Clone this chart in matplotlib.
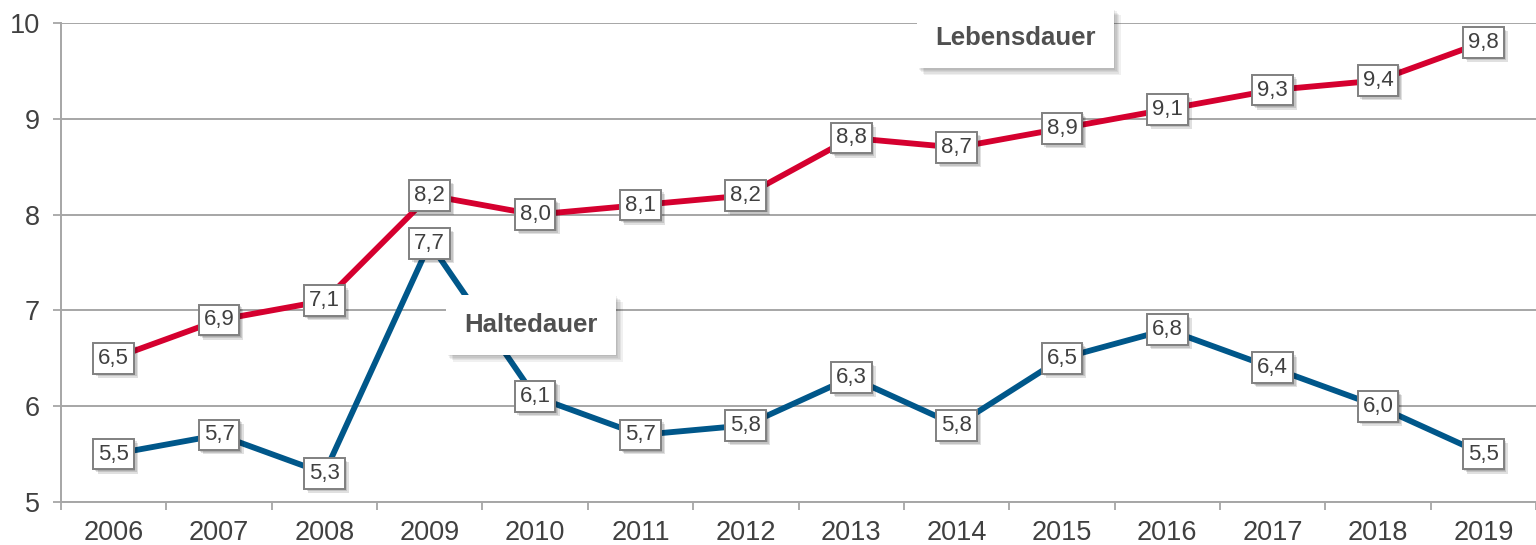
import numpy as np
import matplotlib
matplotlib.use("Agg")
import matplotlib.pyplot as plt
import matplotlib.patheffects as pe

plt.rcParams['font.family'] = ['Liberation Sans', 'DejaVu Sans']

years = ['2006', '2007', '2008', '2009', '2010', '2011', '2012',
         '2013', '2014', '2015', '2016', '2017', '2018', '2019']
lebensdauer = [6.5, 6.9, 7.1, 8.2, 8.0, 8.1, 8.2, 8.8, 8.7, 8.9, 9.1, 9.3, 9.4, 9.8]
haltedauer = [5.5, 5.7, 5.3, 7.7, 6.1, 5.7, 5.8, 6.3, 5.8, 6.5, 6.8, 6.4, 6.0, 5.5]

RED = '#d5002f'
BLUE = '#00578a'
GRID = '#a6a6a6'
TEXT = '#404040'


def soft_shadow(steps=4, alpha=0.09):
    # stack a few offset shadows to fake a blurred drop shadow
    effects = [pe.SimplePatchShadow(offset=(i, -i), shadow_rgbFace='#000000', alpha=alpha)
               for i in range(1, steps + 1)]
    return effects + [pe.Normal()]


fig = plt.figure(figsize=(15.36, 5.45), dpi=100)
ax = fig.add_axes([61 / 1536, 43 / 545, 1 - 61 / 1536, (502 - 23) / 545])

x = np.arange(len(years))
ax.plot(x, lebensdauer, color=RED, lw=4.2, zorder=3, solid_capstyle='butt')
ax.plot(x, haltedauer, color=BLUE, lw=4.2, zorder=3, solid_capstyle='butt')

# value labels
for series in (lebensdauer, haltedauer):
    for xi, v in zip(x, series):
        t = ax.text(xi, v, f"{v:.1f}".replace('.', ','), ha='center', va='center',
                    fontsize=16, color=TEXT, zorder=6,
                    bbox=dict(boxstyle='square,pad=0.22', fc='white', ec='#808080', lw=1.4))
        t.get_bbox_patch().set_path_effects(soft_shadow(3, 0.12))

# series name boxes
for name, xy in (('Lebensdauer', (8.56, 9.84)), ('Haltedauer', (3.96, 6.85))):
    t = ax.text(*xy, name, ha='center', va='center', fontsize=18.5, fontweight='bold',
                color='#505050', zorder=5,
                bbox=dict(boxstyle='square,pad=0.7', fc='white', ec='none'))
    t.get_bbox_patch().set_path_effects(soft_shadow(5, 0.06))

ax.set_ylim(5, 10)
ax.set_xlim(-0.5, 13.5 - 7 / 105.85)
ax.set_yticks([5, 6, 7, 8, 9, 10])
ax.grid(axis='y', color=GRID, lw=1.4, zorder=0)
ax.set_axisbelow(True)

# ticks at category boundaries, labels at centers
ax.set_xticks(np.arange(-0.5, 14, 1))
ax.set_xticklabels([])
ax.set_xticks(x, minor=True)
ax.set_xticklabels(years, minor=True)
ax.tick_params(axis='x', which='major', length=6, width=1.3, color=GRID, direction='out')
ax.tick_params(axis='x', which='minor', length=0, pad=13, labelsize=19.5, labelcolor=TEXT)
ax.tick_params(axis='y', length=6, width=1.3, color=GRID, pad=9, labelsize=19.5, labelcolor=TEXT)

for s in ('top', 'right'):
    ax.spines[s].set_visible(False)
for s in ('left', 'bottom'):
    ax.spines[s].set_color(GRID)
    ax.spines[s].set_linewidth(1.4)

fig.savefig('out.png', dpi=100)
